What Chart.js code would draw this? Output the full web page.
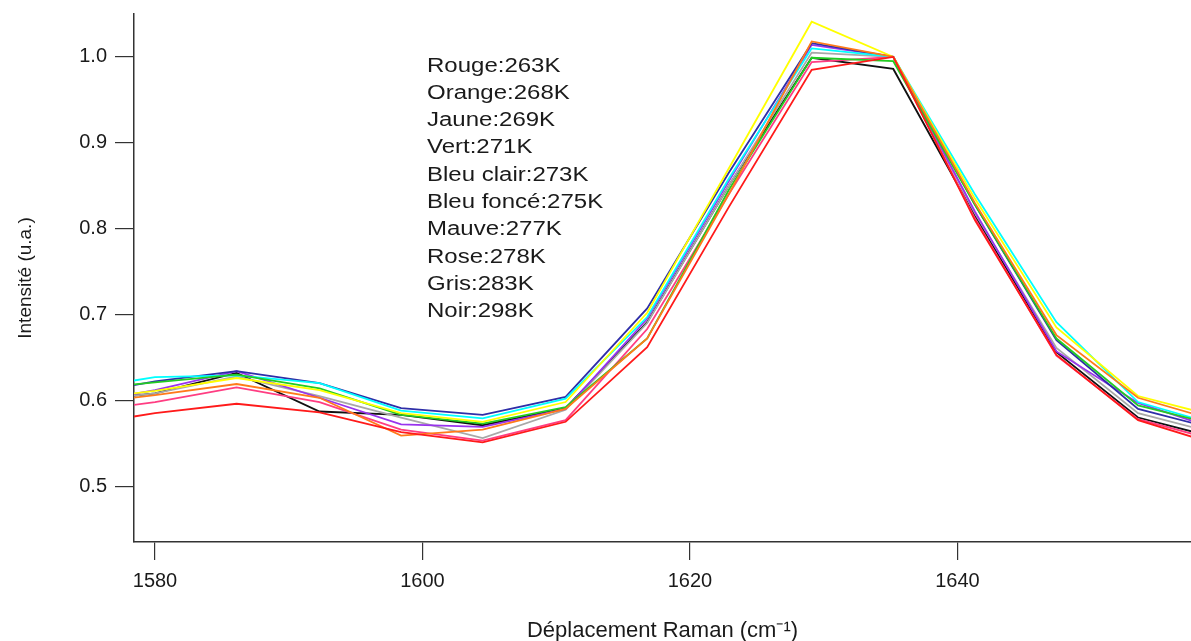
<!DOCTYPE html>
<html>
<head>
<meta charset="utf-8">
<script src="https://cdn.jsdelivr.net/npm/chart.js@4"></script>
<style>
  html, body { margin: 0; padding: 0; background: #fff; }
  canvas { display: block; }
</style>
</head>
<body>
<canvas id="spectra" width="1191" height="641"></canvas>
<script>
// Raman shift (cm-1), sampled points; first and last fall outside the visible window
const shifts = [1573.9, 1580.0, 1586.1, 1592.3, 1598.4, 1604.5, 1610.7, 1616.8, 1622.9, 1629.1, 1635.2, 1641.3, 1647.4, 1653.5, 1659.7]

const rouge     = [0.570, 0.585, 0.596, 0.586, 0.563, 0.551, 0.575, 0.662, 0.825, 0.985, 1.000, 0.810, 0.653, 0.577, 0.547]
const orange    = [0.595, 0.606, 0.619, 0.603, 0.559, 0.566, 0.590, 0.672, 0.840, 1.018, 1.000, 0.830, 0.676, 0.603, 0.575]
const jaune     = [0.600, 0.611, 0.626, 0.612, 0.585, 0.575, 0.598, 0.702, 0.870, 1.041, 1.000, 0.835, 0.685, 0.605, 0.580]
const vert      = [0.612, 0.621, 0.630, 0.614, 0.583, 0.573, 0.592, 0.672, 0.845, 0.999, 0.995, 0.828, 0.672, 0.594, 0.570]
const bleuClair = [0.612, 0.627, 0.629, 0.620, 0.588, 0.579, 0.602, 0.697, 0.858, 1.010, 1.000, 0.840, 0.691, 0.598, 0.570]
const bleuFonce = [0.605, 0.622, 0.634, 0.620, 0.591, 0.583, 0.604, 0.707, 0.865, 1.016, 1.000, 0.828, 0.670, 0.590, 0.565]
const mauve     = [0.595, 0.612, 0.634, 0.603, 0.572, 0.569, 0.590, 0.695, 0.855, 1.014, 1.000, 0.820, 0.657, 0.597, 0.565]
const rose      = [0.585, 0.598, 0.615, 0.598, 0.566, 0.553, 0.577, 0.683, 0.840, 0.994, 1.000, 0.812, 0.652, 0.578, 0.552]
const gris      = [0.598, 0.608, 0.628, 0.605, 0.580, 0.556, 0.589, 0.690, 0.850, 1.005, 1.000, 0.818, 0.661, 0.585, 0.560]
const noir      = [0.598, 0.608, 0.632, 0.587, 0.583, 0.571, 0.591, 0.691, 0.850, 0.999, 0.986, 0.815, 0.656, 0.580, 0.555]

const legendLines = ["Rouge:263K", "Orange:268K", "Jaune:269K", "Vert:271K", "Bleu clair:273K",
                     "Bleu foncé:275K", "Mauve:277K", "Rose:278K", "Gris:283K", "Noir:298K"]

const xTicks = [1580, 1600, 1620, 1640]
const yTicks = [0.5, 0.6, 0.7, 0.8, 0.9, 1.0]

const series = [
  { label: "Rouge",      data: rouge,     color: "#ff1a1a" },
  { label: "Orange",     data: orange,    color: "#ff7a1a" },
  { label: "Jaune",      data: jaune,     color: "#ffff00" },
  { label: "Vert",       data: vert,      color: "#22cc22" },
  { label: "Bleu clair", data: bleuClair, color: "#00ffff" },
  { label: "Bleu foncé", data: bleuFonce, color: "#2e2ea8" },
  { label: "Mauve",      data: mauve,     color: "#9933ee" },
  { label: "Rose",       data: rose,      color: "#ff3d82" },
  { label: "Gris",       data: gris,      color: "#a8a8a8" },
  { label: "Noir",       data: noir,      color: "#111111" },
]

const FONT = "'Liberation Sans', Arial, sans-serif"
const INK  = "#1a1a1a"

// temperature list written inside the plot (the original text is a bit wide, so stretch it)
const notePlugin = {
  id: "tempNote",
  afterDraw(chart) {
    const ctx = chart.ctx
    ctx.save()
    ctx.translate(427, 0)
    ctx.scale(1.2, 1)
    ctx.font = `20px ${FONT}`
    ctx.fillStyle = INK
    ctx.textBaseline = "middle"
    legendLines.forEach((t, i) => ctx.fillText(t, 0, 66 + i * 27.3))
    ctx.restore()
  }
}

new Chart(document.getElementById("spectra"), {
  type: "line",
  data: {
    datasets: series.map(s => ({
      label: s.label,
      data: s.data.map((y, i) => ({ x: shifts[i], y })),
      borderColor: s.color,
      borderWidth: 1.8,
      pointRadius: 0,
      tension: 0,
      fill: false,
    }))
  },
  options: {
    responsive: false,
    animation: false,
    layout: { padding: { top: 14, right: 0, left: 0, bottom: 0 } },
    plugins: { legend: { display: false }, tooltip: { enabled: false } },
    scales: {
      x: {
        type: "linear",
        min: 1578.43,
        max: 1657.46,
        afterBuildTicks: s => { s.ticks = xTicks.map(v => ({ value: v })) },
        afterFit: s => { s.height = 99; s.paddingLeft = 0; s.paddingRight = 0 },
        grid: { display: true, drawOnChartArea: false, drawTicks: true, tickLength: 18, color: "#333", lineWidth: 1.2 },
        border: { display: true, color: "#333", width: 1.5 },
        ticks: { color: INK, font: { family: FONT, size: 20 }, padding: 9, maxRotation: 0, callback: v => String(v) },
        title: { display: true, text: "Déplacement Raman (cm⁻¹)", color: INK, font: { family: FONT, size: 22 }, padding: { top: 0, bottom: -3 } }
      },
      y: {
        min: 0.435,
        max: 1.05,
        afterBuildTicks: s => { s.ticks = yTicks.map(v => ({ value: v })) },
        afterFit: s => { s.width = 134; s.paddingTop = 0; s.paddingBottom = 0 },
        grid: { display: true, drawOnChartArea: false, drawTicks: true, tickLength: 19, color: "#333", lineWidth: 1.2 },
        border: { display: true, color: "#333", width: 1.5 },
        ticks: { color: INK, font: { family: FONT, size: 20 }, padding: 8, callback: v => v.toFixed(1) },
        title: { display: true, text: "Intensité (u.a.)", color: INK, font: { family: FONT, size: 19 }, padding: { top: 14, bottom: 0 } }
      }
    }
  },
  plugins: [notePlugin]
})
</script>
</body>
</html>
